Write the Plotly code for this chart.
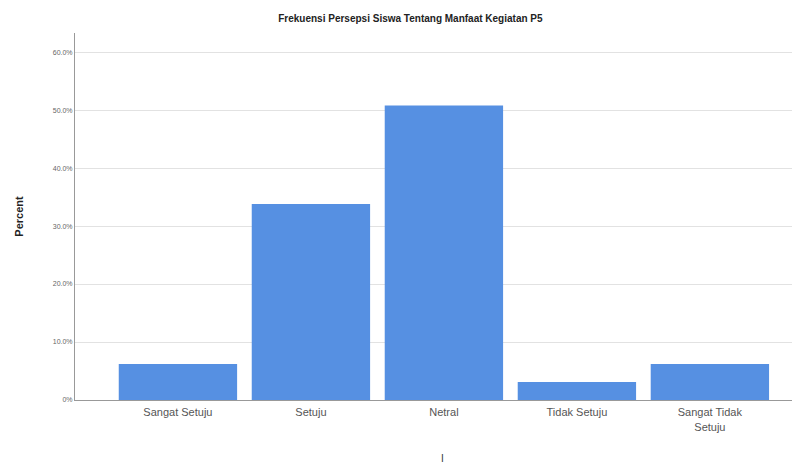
import plotly.graph_objects as go

categories = ["Sangat Setuju", "Setuju", "Netral", "Tidak Setuju", "Sangat Tidak<br>Setuju"]
percent = [6.2, 33.8, 50.8, 3.1, 6.2]
tick_vals = [0, 10, 20, 30, 40, 50, 60]
tick_text = ["0%", "10.0%", "20.0%", "30.0%", "40.0%", "50.0%", "60.0%"]

fig = go.Figure(go.Bar(
    x=list(range(len(categories))), y=percent,
    marker=dict(color="rgb(86,144,226)", line=dict(width=0)),
    width=0.89,
))

fig.update_layout(
    width=800, height=464,
    margin=dict(l=67, r=13, t=25, b=72),
    paper_bgcolor="white", plot_bgcolor="white",
    title=dict(text="<b>Frekuensi Persepsi Siswa Tentang Manfaat Kegiatan P5</b>",
               x=0.503, xanchor="center", y=0.978, yanchor="middle",
               font=dict(family="Liberation Sans, Arial", size=10, color="#222")),
    showlegend=False,
    font=dict(family="Liberation Sans, Arial"),
    annotations=[dict(text="I", xref="paper", yref="paper", x=0.511, y=-0.18,
                      showarrow=False, font=dict(size=10, color="#333"))],
)
fig.update_xaxes(
    range=[-0.774, 4.64],
    tickvals=list(range(len(categories))), ticktext=categories,
    tickfont=dict(size=11, color="#555"),
    showline=True, linecolor="#999", linewidth=1,
    showgrid=False, ticks="", zeroline=False,
    ticklabelstandoff=2,
)
fig.update_yaxes(
    range=[0, 63.3],
    tickvals=tick_vals, ticktext=tick_text,
    tickfont=dict(size=7, color="#666"),
    showline=True, linecolor="#999", linewidth=1,
    showgrid=True, gridcolor="#e2e2e2", gridwidth=1,
    zeroline=False, ticks="",
    title=dict(text="<b>Percent</b>", font=dict(size=11, color="#222"), standoff=26),
)

fig.write_html("out.html")
